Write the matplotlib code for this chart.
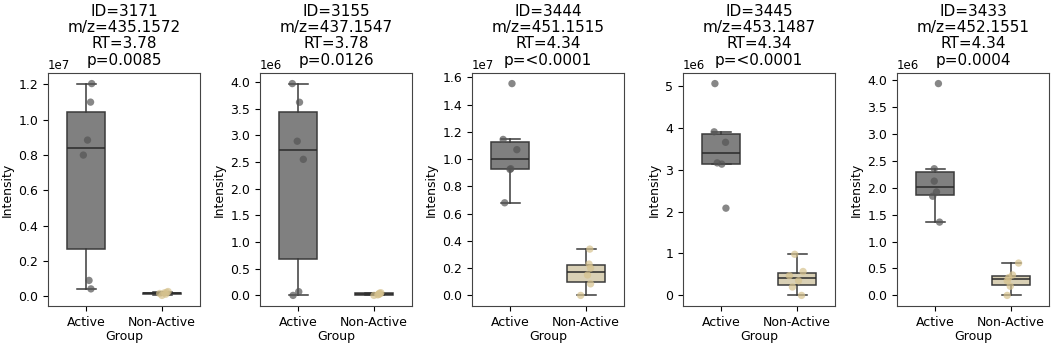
import numpy as np
import matplotlib
matplotlib.use('Agg')
import matplotlib.pyplot as plt

groups = ['Active', 'Non-Active']
titles = ['ID=3171\nm/z=435.1572\nRT=3.78\np=0.0085',
          'ID=3155\nm/z=437.1547\nRT=3.78\np=0.0126',
          'ID=3444\nm/z=451.1515\nRT=4.34\np=<0.0001',
          'ID=3445\nm/z=453.1487\nRT=4.34\np=<0.0001',
          'ID=3433\nm/z=452.1551\nRT=4.34\np=0.0004']

# intensities (raw units)
active = [
    [0.42e6, 0.90e6, 8.00e6, 8.85e6, 11.0e6, 12.05e6],
    [0.00e6, 0.07e6, 2.55e6, 2.89e6, 3.62e6, 3.97e6],
    [6.8e6, 9.25e6, 9.3e6, 10.7e6, 11.45e6, 15.55e6],
    [2.08e6, 3.13e6, 3.16e6, 3.65e6, 3.90e6, 5.05e6],
    [1.36e6, 1.84e6, 1.92e6, 2.12e6, 2.35e6, 3.93e6],
]
nonactive = [
    [0.05e6, 0.12e6, 0.16e6, 0.19e6, 0.22e6, 0.27e6],
    [0.00e6, 0.01e6, 0.02e6, 0.03e6, 0.04e6, 0.05e6],
    [0.0e6, 0.85e6, 1.5e6, 2.0e6, 2.3e6, 3.4e6],
    [0.00e6, 0.20e6, 0.35e6, 0.47e6, 0.57e6, 0.98e6],
    [0.00e6, 0.17e6, 0.27e6, 0.33e6, 0.38e6, 0.60e6],
]
# strip jitter
jit_active = [
    [0.065, 0.04, -0.035, 0.02, 0.06, 0.075],
    [-0.065, 0.01, 0.07, -0.01, 0.02, -0.075],
    [-0.07, 0.0, 0.01, 0.09, -0.09, 0.026],
    [0.065, 0.01, -0.05, 0.06, -0.09, -0.08],
    [0.06, -0.03, 0.02, -0.01, -0.01, 0.045],
]
jit_non = [
    [0.0, 0.05, -0.03, 0.03, 0.06, 0.08],
    [0.0, 0.05, 0.06, 0.08, 0.07, 0.09],
    [-0.07, 0.06, 0.02, 0.06, 0.04, 0.05],
    [0.06, -0.06, 0.02, -0.1, 0.08, -0.03],
    [-0.05, -0.01, -0.05, -0.03, 0.02, 0.1],
]

box_colors = ['#808080', '#d9d0b5']
pt_colors = ['#555555', '#d6c28e']
edge = '#3a3a3a'

fig = plt.figure(figsize=(10.52, 3.47), dpi=100)
lefts = [48, 260, 472, 683, 897]
W, H = 1052, 347

for i in range(5):
    ax = fig.add_axes([lefts[i] / W, 1 - 306 / H, 152 / W, 233 / H])
    data = [active[i], nonactive[i]]
    bp = ax.boxplot(data, positions=[0, 1], widths=0.5, patch_artist=True,
                    showfliers=False,
                    medianprops=dict(color='#2a2a2a', lw=1.1),
                    whiskerprops=dict(color=edge, lw=1.1),
                    capprops=dict(color=edge, lw=1.1),
                    boxprops=dict(edgecolor=edge, lw=1.1))
    for patch, c in zip(bp['boxes'], box_colors):
        patch.set_facecolor(c)
    for g, (vals, jit) in enumerate([(active[i], jit_active[i]), (nonactive[i], jit_non[i])]):
        ax.scatter(np.array(jit) + g, vals, s=28, color=pt_colors[g], alpha=0.7,
                   edgecolor='none', zorder=3)
    ax.set_xlim(-0.5, 1.5)
    ax.set_xticks([0, 1])
    ax.set_xticklabels(groups, fontsize=9)
    ax.tick_params(axis='y', labelsize=9)
    ax.yaxis.get_offset_text().set_fontsize(8.5)
    ax.set_xlabel('Group', fontsize=9, labelpad=1)
    ax.set_ylabel('Intensity', fontsize=9, labelpad=3)
    ax.set_title(titles[i], fontsize=11, linespacing=1.1, pad=6, y=1.0)
    for s in ax.spines.values():
        s.set_color('#444444')

fig.savefig('out.png', dpi=100)
